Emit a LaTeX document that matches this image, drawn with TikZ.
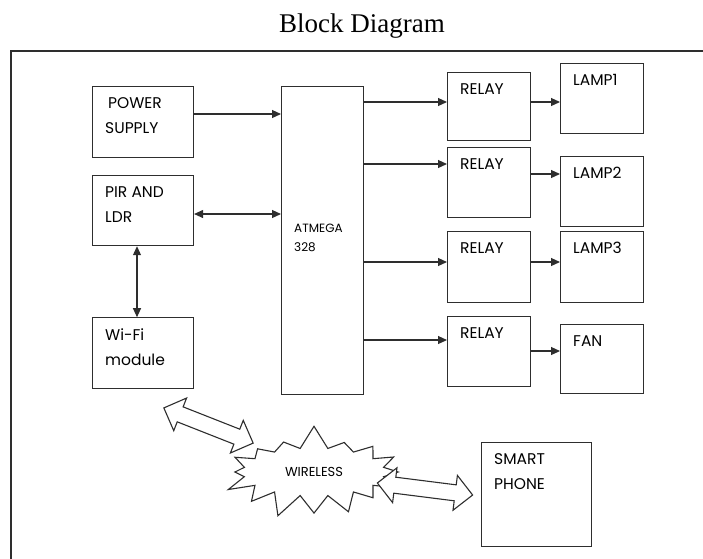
\documentclass[tikz,border=0pt]{standalone}
\usepackage{fontspec}
\setmainfont{Liberation Serif}
\newfontfamily\blockfam{Poppins}
\usetikzlibrary{arrows.meta,positioning,shapes.symbols,shapes.arrows}
\definecolor{ink}{HTML}{2E2E2E}
\newcommand{\boxfont}{\blockfam\fontsize{15.5}{25}\selectfont}
\newcommand{\chipfont}{\blockfam\fontsize{12}{19}\selectfont}
\tikzset{
  blk/.style={rectangle, draw=ink, line width=1.1pt, anchor=north west, inner sep=0pt},
  txt/.style={anchor=north west, font=\boxfont, align=left, inner sep=0pt, xshift=13pt, yshift=-11pt},
  flow/.style={-{Triangle[length=9pt,width=8pt]}, draw=ink, line width=1.1pt},
  biflow/.style={{Triangle[length=9pt,width=8pt]}-{Triangle[length=9pt,width=8pt]}, draw=ink, line width=1.1pt},
  bigarrow/.style={double arrow, draw=ink, fill=white, line width=1.1pt, inner xsep=0pt, inner ysep=7.5pt,
              double arrow head extend=9.5pt, minimum height=96pt},
  burst/.style={starburst, draw=ink, fill=white, line width=1.1pt, starburst points=16, starburst point height=24pt,
              random starburst=7, minimum width=190pt, minimum height=96pt, font=\blockfam\fontsize{13}{15}\selectfont},
  frame/.style={draw=ink, line width=1.4pt}
}
\begin{document}
\begin{tikzpicture}[x=1pt, y=-1pt]
 \clip (0,0) rectangle (703,558);
 \node[font=\fontsize{27}{30}\selectfont] (title) at (362,26) {Block Diagram};
 \draw[frame] (11,51) rectangle (720,575);

 % left column
 \node[blk, minimum width=101pt, minimum height=71pt, label={[txt]north west:\hspace{3pt}POWER\\SUPPLY}] (power) at (92,86) {};
 \node[blk, below=17pt of power, minimum width=101pt, minimum height=70pt, label={[txt]north west:PIR AND\\LDR}] (pir) {};
 \node[blk, below=71pt of pir, minimum width=101pt, minimum height=71pt, label={[txt]north west:Wi-Fi\\module}] (wifi) {};

 % controller
 \node[blk, minimum width=82pt, minimum height=308pt,
       label={[anchor=west, font=\chipfont, align=left, inner sep=0pt, xshift=13pt, yshift=3pt]west:ATMEGA\\328}] (atm) at (281,86) {};

 % relays and loads
 \node[blk, minimum width=83pt, minimum height=68pt, label={[txt]north west:RELAY}] (r1) at (447,72) {};
 \node[blk, minimum width=83pt, minimum height=70pt, label={[txt]north west:RELAY}] (r2) at (447,147) {};
 \node[blk, minimum width=83pt, minimum height=71pt, label={[txt]north west:RELAY}] (r3) at (447,231) {};
 \node[blk, minimum width=83pt, minimum height=70pt, label={[txt]north west:RELAY}] (r4) at (447,316) {};
 \node[blk, minimum width=83pt, minimum height=70pt, label={[txt]north west:LAMP1}] (l1) at (560,63) {};
 \node[blk, minimum width=83pt, minimum height=70pt, label={[txt]north west:LAMP2}] (l2) at (560,156) {};
 \node[blk, minimum width=83pt, minimum height=71pt, label={[txt]north west:LAMP3}] (l3) at (560,231) {};
 \node[blk, minimum width=83pt, minimum height=69pt, label={[txt]north west:FAN}] (fan) at (560,324) {};

 % wireless link
 \node[burst] (wl) at (314,472) {WIRELESS};
 \node[bigarrow, rotate=-21.5] (a1) at (208.5,425.5) {};
 \node[bigarrow, rotate=-7.2] (a2) at (425,489) {};
 \node[blk, minimum width=110pt, minimum height=104pt, label={[txt]north west:SMART\\PHONE}] (phone) at (481,442) {};

 \draw[flow] (power.east |- 0,114) -- (atm.west |- 0,114);
 \draw[biflow] (pir.east |- 0,214) -- (atm.west |- 0,214);
 \draw[biflow] (pir.south -| 137,0) -- (wifi.north -| 137,0);
 \foreach \r/\y in {r1/102, r2/164, r3/262, r4/340}
  \draw[flow] (atm.east |- 0,\y) -- (\r.west |- 0,\y);
 \foreach \r/\l/\y in {r1/l1/102, r2/l2/174, r3/l3/262, r4/fan/351}
  \draw[flow] (\r.east |- 0,\y) -- (\l.west |- 0,\y);
\end{tikzpicture}
\end{document}
